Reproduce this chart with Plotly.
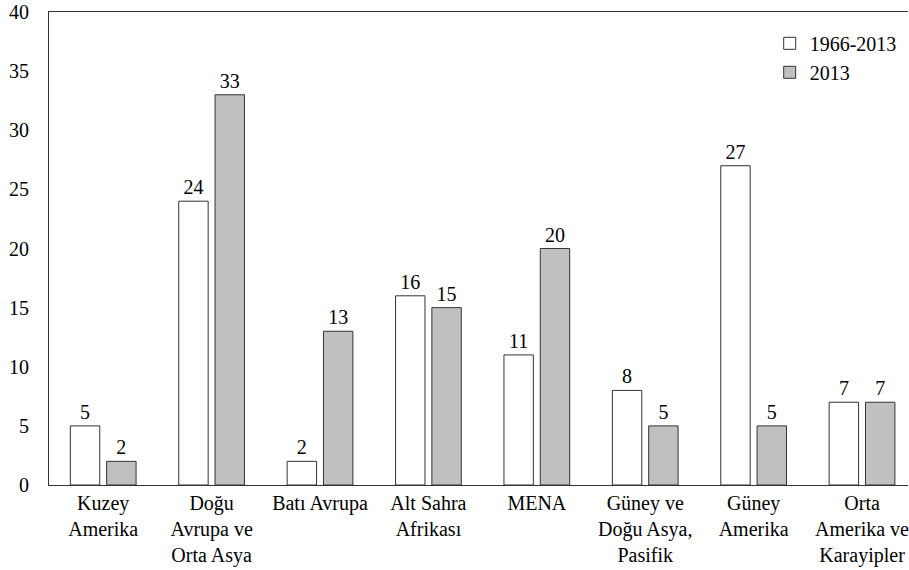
import plotly.graph_objects as go

categories = ["Kuzey<br>Amerika", "Doğu<br>Avrupa ve<br>Orta Asya", "Batı Avrupa",
              "Alt Sahra<br>Afrikası", "MENA", "Güney ve<br>Doğu Asya,<br>Pasifik",
              "Güney<br>Amerika", "Orta<br>Amerika ve<br>Karayipler"]
series_names = ["1966-2013", "2013"]
values_1966_2013 = [5, 24, 2, 16, 11, 8, 27, 7]
values_2013 = [2, 33, 13, 15, 20, 5, 5, 7]
y_ticks = [0, 5, 10, 15, 20, 25, 30, 35, 40]

font_family = "Liberation Serif, Times New Roman, serif"
fs = 20

fig = go.Figure()
fig.add_trace(go.Bar(
    x=categories, y=values_1966_2013, name=series_names[0],
    marker=dict(color="white", line=dict(color="#333333", width=1)),
    text=values_1966_2013, textposition="outside", cliponaxis=False,
    textfont=dict(size=fs, color="black", family=font_family),
))
fig.add_trace(go.Bar(
    x=categories, y=values_2013, name=series_names[1],
    marker=dict(color="#c0c0c0", line=dict(color="#333333", width=1)),
    text=values_2013, textposition="outside", cliponaxis=False,
    textfont=dict(size=fs, color="black", family=font_family),
))

fig.update_layout(
    width=909, height=570,
    margin=dict(l=49, r=1, t=12, b=85),
    paper_bgcolor="white", plot_bgcolor="white",
    barmode="group", bargap=0.33, bargroupgap=0.19,
    font=dict(family=font_family, size=fs, color="black"),
    showlegend=True,
    legend=dict(x=0.839, y=0.975, xanchor="left", yanchor="top",
                bgcolor="rgba(0,0,0,0)", font=dict(size=fs, family=font_family),
                itemwidth=30, tracegroupgap=0),
    xaxis=dict(showline=True, mirror=True, linecolor="#333333", linewidth=1,
               ticks="", showgrid=False, tickangle=0, automargin=False,
               range=[-0.5, 7.424],
               tickfont=dict(size=fs, family=font_family)),
    yaxis=dict(range=[0, 40], tickvals=y_ticks, showgrid=False, zeroline=False,
               showline=True, linecolor="#333333", linewidth=1, ticks="",
               ticklabelstandoff=15, automargin=False,
               tickfont=dict(size=fs, family=font_family)),
)

fig.write_html("out.html", config={"displayModeBar": False},
               post_script="document.body.style.margin='0';")
